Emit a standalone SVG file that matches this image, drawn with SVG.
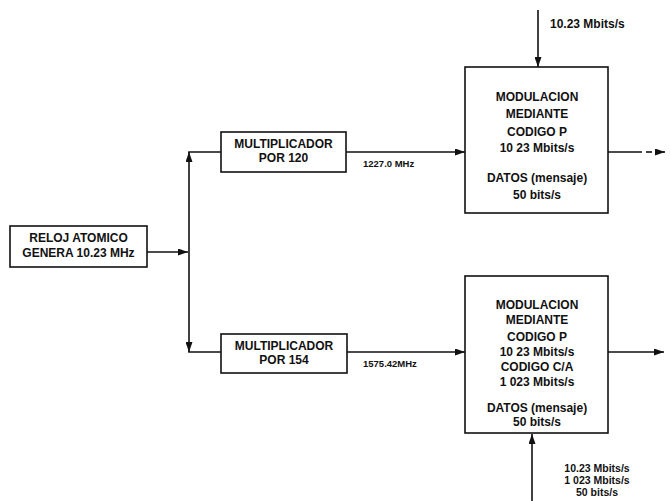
<svg xmlns="http://www.w3.org/2000/svg" width="670" height="501" viewBox="0 0 670 501">
<style>
.box{fill:#fff;stroke:#111;stroke-width:1.6}
.t{font-family:"Liberation Sans",Arial,sans-serif;font-weight:bold;font-size:12px;fill:#111;text-anchor:middle}
.s{font-family:"Liberation Sans",Arial,sans-serif;font-weight:bold;font-size:9.5px;fill:#111}
.l{font-family:"Liberation Sans",Arial,sans-serif;font-weight:bold;font-size:12px;fill:#111}
.b{font-family:"Liberation Sans",Arial,sans-serif;font-weight:bold;font-size:10.5px;fill:#111;text-anchor:middle}
.c{fill:none;stroke:#111;stroke-width:1.6}
</style>
<defs>
<marker id="ah" viewBox="0 0 10 7" refX="10" refY="3.5" markerWidth="10" markerHeight="7" markerUnits="userSpaceOnUse" orient="auto">
<path d="M0,0 L10,3.5 L0,7 Z" fill="#111"/>
</marker>
</defs>
<rect width="670" height="501" fill="#fff"/>
<g id="connectors">
<line class="c" x1="147" y1="252" x2="188" y2="252" marker-end="url(#ah)"/>
<line class="c" x1="189" y1="252" x2="189" y2="152" marker-end="url(#ah)"/>
<line class="c" x1="188.2" y1="152" x2="221" y2="152"/>
<line class="c" x1="189" y1="252" x2="189" y2="352" marker-end="url(#ah)"/>
<line class="c" x1="188.2" y1="352" x2="221" y2="352"/>
<line class="c" x1="346" y1="152" x2="465" y2="152" marker-end="url(#ah)"/>
<line class="c" x1="347" y1="352" x2="465" y2="352" marker-end="url(#ah)"/>
<line class="c" x1="538" y1="10" x2="538" y2="67" marker-end="url(#ah)"/>
<line class="c" x1="532" y1="501" x2="532" y2="434" marker-end="url(#ah)"/>
<line class="c" x1="608" y1="152" x2="642" y2="152"/>
<line class="c" x1="646" y1="152" x2="652" y2="152"/>
<line class="c" x1="655" y1="152" x2="665" y2="152" marker-end="url(#ah)"/>
<line class="c" x1="608" y1="352" x2="664" y2="352" marker-end="url(#ah)"/>
</g>
<g id="reloj">
<rect class="box" x="10" y="226" width="137" height="41"/>
<text class="t" x="78.5" y="242">RELOJ ATOMICO</text>
<text class="t" x="78.5" y="257">GENERA 10.23 MHz</text>
</g>
<g id="mult120">
<rect class="box" x="221" y="132" width="125" height="40"/>
<text class="t" x="283.5" y="148">MULTIPLICADOR</text>
<text class="t" x="283.5" y="162">POR 120</text>
</g>
<g id="mult154">
<rect class="box" x="221" y="334" width="126" height="39"/>
<text class="t" x="284" y="350">MULTIPLICADOR</text>
<text class="t" x="284" y="364">POR 154</text>
</g>
<g id="mod1">
<rect class="box" x="465" y="67" width="143" height="146"/>
<text class="t" x="537" y="101">MODULACION</text>
<text class="t" x="537" y="118">MEDIANTE</text>
<text class="t" x="537" y="136">CODIGO P</text>
<text class="t" x="537" y="152">10 23 Mbits/s</text>
<text class="t" x="537" y="182">DATOS (mensaje)</text>
<text class="t" x="537" y="199">50 bits/s</text>
</g>
<g id="mod2">
<rect class="box" x="465" y="276" width="143" height="157"/>
<text class="t" x="537" y="309">MODULACION</text>
<text class="t" x="537" y="324">MEDIANTE</text>
<text class="t" x="537" y="341">CODIGO P</text>
<text class="t" x="537" y="356">10 23 Mbits/s</text>
<text class="t" x="537" y="371">CODIGO C/A</text>
<text class="t" x="537" y="386">1 023 Mbits/s</text>
<text class="t" x="537" y="412">DATOS (mensaje)</text>
<text class="t" x="537" y="426">50 bits/s</text>
</g>
<g id="labels">
<text class="s" x="363" y="166.5">1227.0 MHz</text>
<text class="s" x="363" y="366.5">1575.42MHz</text>
<text class="l" x="550" y="28">10.23 Mbits/s</text>
<text class="b" x="597" y="472">10.23 Mbits/s</text>
<text class="b" x="597" y="484">1 023 Mbits/s</text>
<text class="b" x="597" y="496">50 bits/s</text>
</g>
</svg>
